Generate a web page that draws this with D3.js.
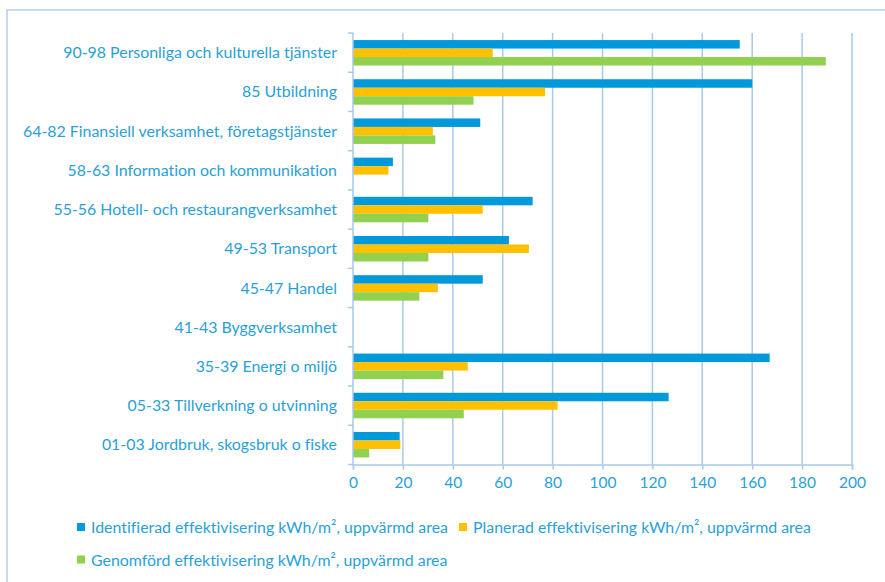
<!DOCTYPE html>
<html><head><meta charset="utf-8">
<script src="https://cdn.jsdelivr.net/npm/d3@7"></script>
<style>
body{margin:0;background:#fff;}
text{font-family:Lato,"Open Sans",sans-serif;font-variant-ligatures:none;}
</style></head>
<body>
<svg id="c" width="885" height="582"></svg>
<script>
const categories = [
  "90-98 Personliga och kulturella tjänster",
  "85 Utbildning",
  "64-82 Finansiell verksamhet, företagstjänster",
  "58-63 Information och kommunikation",
  "55-56 Hotell- och restaurangverksamhet",
  "49-53 Transport",
  "45-47 Handel",
  "41-43 Byggverksamhet",
  "35-39 Energi o miljö",
  "05-33 Tillverkning o utvinning",
  "01-03 Jordbruk, skogsbruk o fiske"
];
const identifierad = [155, 160, 51, 16, 72, 62.5, 52, 0, 167, 126.5, 18.7];
const planerad     = [56, 77, 32, 14.2, 52, 70.5, 34, 0, 46, 82, 19];
const genomford    = [189.5, 48.3, 33, 0, 30.2, 30.2, 26.6, 0, 36.2, 44.4, 6.5];
const seriesNames = [
  "Identifierad effektivisering kWh/m², uppvärmd area",
  "Planerad effektivisering kWh/m², uppvärmd area",
  "Genomförd effektivisering kWh/m², uppvärmd area"
];
const seriesColors = ["#0099DA", "#FFC000", "#92D050"];
const xTicks = [0,20,40,60,80,100,120,140,160,180,200];

(function(){
const series = [identifierad, planerad, genomford];
const svg = d3.select("#c");
const textColor = "#2A9FD8";
const gridColor = "#A7C9EA";

// outer frame
svg.append("rect").attr("x",7).attr("y",10).attr("width",900).attr("height",600)
  .attr("fill","none").attr("stroke","#B4D0EE").attr("stroke-width",1.5);

const pLeft = 353, pRight = 852, pTop = 33, pBottom = 464.5;
const x = d3.scaleLinear().domain([0,200]).range([pLeft,pRight]);
const y = d3.scaleBand().domain(categories).range([pTop,pBottom]).paddingInner(0.35).paddingOuter(0.18);
const ySub = d3.scaleBand().domain([0,1,2]).range([0,y.bandwidth()]);
const yOuter = d3.scaleBand().domain(categories).range([pTop,pBottom]);

// gridlines
svg.append("g").selectAll("line").data(xTicks.slice(1)).join("line")
  .attr("x1",d=>x(d)).attr("x2",d=>x(d)).attr("y1",pTop).attr("y2",pBottom)
  .attr("stroke",gridColor).attr("stroke-width",1.5);

// bars
const g = svg.append("g");
series.forEach((vals,si)=>{
  g.selectAll(null).data(categories).join("rect")
    .attr("x",x(0))
    .attr("y",c=>y(c)+ySub(si))
    .attr("width",(c,i)=>x(vals[i])-x(0))
    .attr("height",ySub.bandwidth())
    .attr("fill",seriesColors[si]);
});

// x axis
const xAxis = svg.append("g").attr("transform",`translate(0,${pBottom})`)
  .call(d3.axisBottom(x).tickValues(xTicks).tickSize(5).tickPadding(7));
xAxis.select(".domain").attr("stroke",gridColor).attr("stroke-width",1.5);
xAxis.selectAll(".tick line").attr("stroke",gridColor).attr("stroke-width",1.5);
xAxis.selectAll(".tick text").attr("fill",textColor).attr("font-size",15.5)
  .style("font-family","Lato, 'Open Sans', sans-serif");

// y axis
const yAxisG = svg.append("g").attr("transform",`translate(${pLeft},0)`);
yAxisG.append("line").attr("x1",0).attr("x2",0).attr("y1",pTop).attr("y2",pBottom)
  .attr("stroke",gridColor).attr("stroke-width",1.5);
const boundaries = categories.map(c=>yOuter(c)).concat([pBottom]);
yAxisG.selectAll("line.tk").data(boundaries).join("line").attr("class","tk")
  .attr("x1",-5).attr("x2",0).attr("y1",d=>d).attr("y2",d=>d)
  .attr("stroke",gridColor).attr("stroke-width",1.5);
yAxisG.selectAll("text").data(categories).join("text")
  .attr("x",-16).attr("y",c=>yOuter(c)+yOuter.bandwidth()/2)
  .attr("dy","0.35em").attr("text-anchor","end")
  .attr("fill",textColor).attr("font-size",15.9).text(d=>d);

// legend
const legendItems = [
  {name:seriesNames[0], color:seriesColors[0], x:77, y:527.5},
  {name:seriesNames[1], color:seriesColors[1], x:459, y:527.5},
  {name:seriesNames[2], color:seriesColors[2], x:77, y:560}
];
const lg = svg.append("g").selectAll("g").data(legendItems).join("g")
  .attr("transform",d=>`translate(${d.x},${d.y})`);
lg.append("rect").attr("x",0).attr("y",-4.5).attr("width",8).attr("height",8).attr("fill",d=>d.color);
lg.append("text").attr("x",14).attr("dy","0.35em").attr("fill",textColor)
  .attr("font-size",15.9).text(d=>d.name);
})();
</script>
</body></html>
